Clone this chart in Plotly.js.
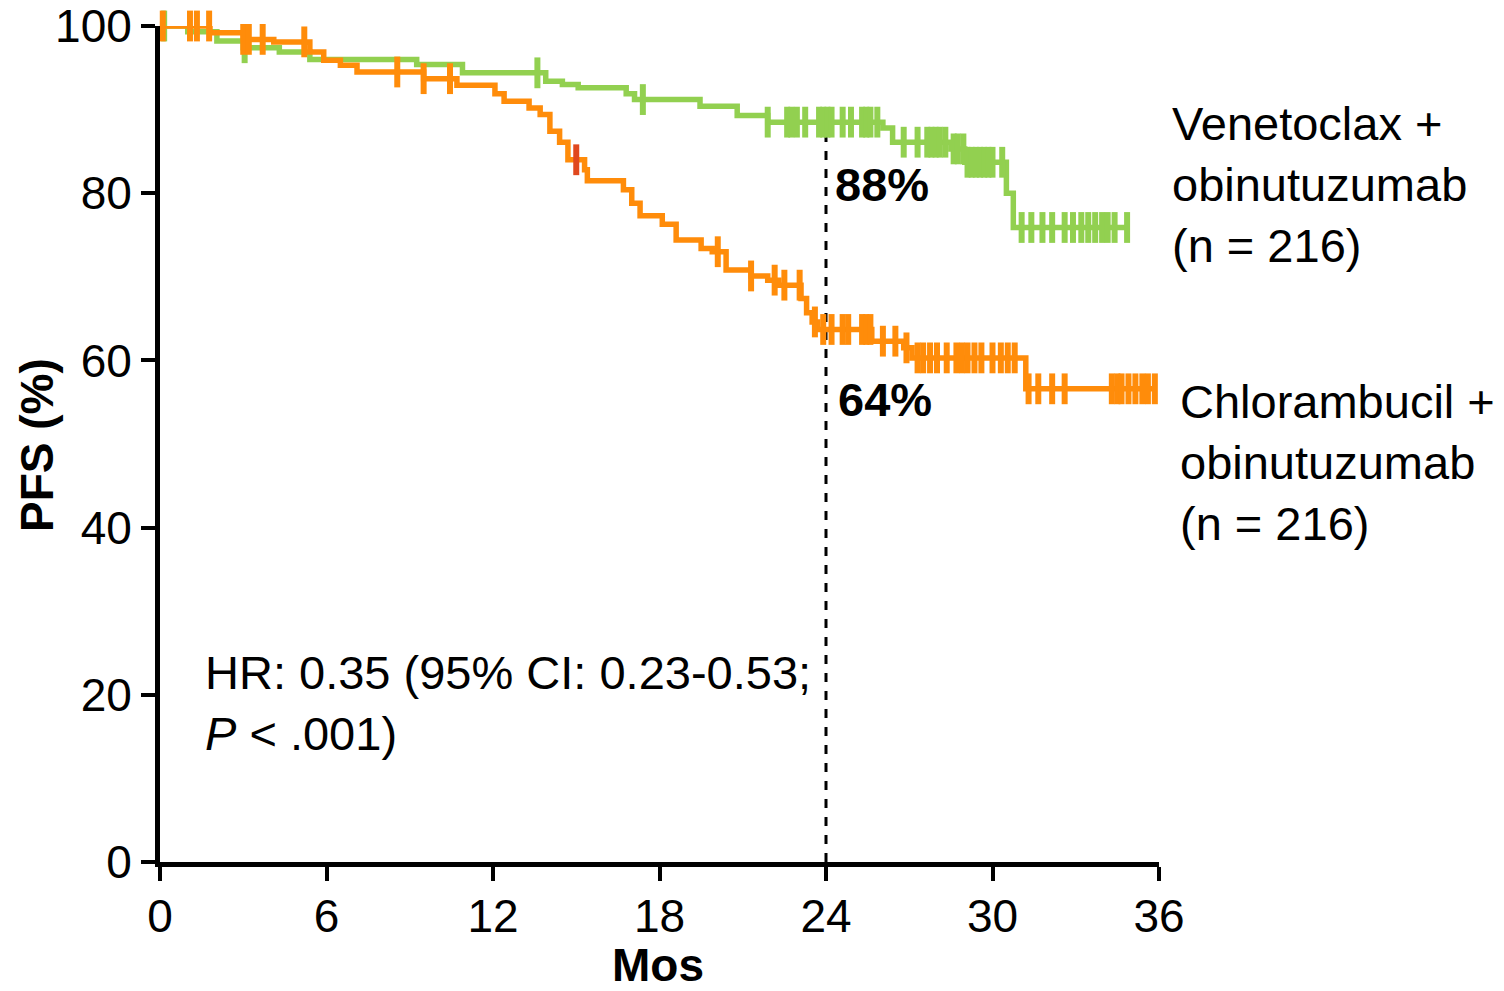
<!DOCTYPE html>
<html>
<head>
<meta charset="utf-8">
<script src="https://cdn.plot.ly/plotly-3.0.1.min.js"></script>
<style>html,body{margin:0;padding:0;background:#fff;}#chart{width:1504px;height:991px;}</style>
</head>
<body>
<div id="chart"></div>
<script>
// Venetoclax + obinutuzumab: step times (months) and PFS (%)
const venTimes = [0, 1.0, 2.05, 3.0, 4.3, 5.4, 9.25, 10.9, 13.9, 14.5, 15.07, 16.8, 17.1, 19.46, 20.8, 21.9, 26.05, 26.4, 28.5, 29.0, 30.5, 30.75];
const venPFS   = [100, 99.3, 98.2, 97.4, 96.9, 96.0, 95.4, 94.4, 93.4, 93.0, 92.6, 91.9, 91.2, 90.4, 89.3, 88.5, 87.8, 86.1, 85.3, 83.7, 80.0, 75.9];
const venCensor = [0.15, 3.05, 13.6, 17.4, 21.9, 22.6, 22.75, 22.95, 23.25, 23.75, 23.9, 24.05, 24.2, 24.6, 24.9, 25.3, 25.45, 25.6, 25.85, 26.8, 27.3, 27.65, 27.8, 27.95, 28.1, 28.3, 28.6, 28.75, 28.95, 29.1, 29.25, 29.4, 29.55, 29.7, 29.85, 30.0, 30.35, 31.05, 31.4, 31.8, 32.15, 32.6, 32.9, 33.2, 33.45, 33.7, 33.95, 34.15, 34.4, 34.85];

// Chlorambucil + obinutuzumab
const chlTimes = [0, 1.8, 3.0, 4.1, 5.4, 5.9, 6.5, 7.1, 9.5, 10.7, 12.07, 12.4, 13.3, 13.7, 14.05, 14.4, 14.7, 15.3, 15.4, 16.7, 17.0, 17.3, 18.1, 18.6, 19.5, 19.9, 20.4, 21.3, 21.9, 22.3, 23.1, 23.3, 23.5, 23.7, 25.65, 26.8, 27.1, 31.2];
const chlPFS   = [100, 99.2, 98.4, 98.1, 96.9, 95.9, 95.3, 94.5, 93.7, 92.9, 91.9, 91.0, 90.2, 89.4, 87.4, 86.1, 84.0, 82.8, 81.5, 80.4, 78.8, 77.3, 76.3, 74.4, 73.4, 73.0, 70.8, 70.1, 69.6, 69.0, 67.4, 65.7, 64.6, 63.7, 62.3, 61.5, 60.3, 56.6];
const chlCensor = [0.1, 1.08, 1.33, 1.77, 3.0, 3.2, 3.7, 5.2, 8.55, 9.5, 10.45, 20.1, 21.3, 22.15, 22.5, 23.05, 23.6, 23.9, 24.2, 24.6, 24.8, 25.3, 25.45, 25.6, 26.05, 26.5, 26.9, 27.3, 27.5, 27.75, 28.0, 28.35, 28.7, 28.9, 29.1, 29.35, 29.6, 30.0, 30.3, 30.55, 30.8, 31.3, 31.65, 32.15, 32.6, 34.3, 34.5, 34.65, 34.9, 35.15, 35.4, 35.6, 35.85];
const chlRedCensor = [15.0];

const xTicks = [0, 6, 12, 18, 24, 30, 36];
const yTicks = [0, 20, 40, 60, 80, 100];
const landmark = 24;
const xTitle = "Mos";
const yTitle = "PFS (%)";
const venLabel = "Venetoclax +<br>obinutuzumab<br>(n = 216)";
const chlLabel = "Chlorambucil +<br>obinutuzumab<br>(n = 216)";

const GREEN = '#92D050', ORANGE = '#FF8C0A', RED = '#E0481E';
const FONT = '"Liberation Sans", Arial, sans-serif';

function stepAt(times, vals, t) {
  let v = vals[0];
  for (let i = 0; i < times.length; i++) { if (times[i] <= t) v = vals[i]; }
  return v;
}
function lineXY(times, vals, endT) {
  return { x: times.concat([endT]), y: vals.concat([vals[vals.length - 1]]) };
}
const venLine = lineXY(venTimes, venPFS, venCensor[venCensor.length - 1]);
const chlLine = lineXY(chlTimes, chlPFS, chlCensor[chlCensor.length - 1]);

function censorTrace(times, stepT, stepV, color) {
  return {
    x: times, y: times.map(t => stepAt(stepT, stepV, t)),
    mode: 'markers', type: 'scatter', cliponaxis: false, hoverinfo: 'skip',
    marker: { symbol: 'line-ns', size: 22, color: color, line: { color: color, width: 6 } }
  };
}

const traces = [
  { x: venLine.x, y: venLine.y, mode: 'lines', type: 'scatter', line: { shape: 'hv', color: GREEN, width: 5.5 }, cliponaxis: false },
  censorTrace(venCensor, venTimes, venPFS, GREEN),
  { x: chlLine.x, y: chlLine.y, mode: 'lines', type: 'scatter', line: { shape: 'hv', color: ORANGE, width: 5.5 }, cliponaxis: false },
  censorTrace(chlCensor, chlTimes, chlPFS, ORANGE),
  censorTrace(chlRedCensor, chlTimes, chlPFS, RED)
];

const layout = {
  width: 1504, height: 991,
  margin: { l: 160, r: 345, t: 26, b: 129 },
  paper_bgcolor: '#fff', plot_bgcolor: '#fff',
  showlegend: false,
  font: { family: FONT, size: 45, color: '#000' },
  xaxis: {
    range: [0, 36], tickvals: xTicks, ticktext: xTicks.map(String),
    showgrid: false, zeroline: false, showline: true, linecolor: '#000', linewidth: 5,
    ticks: 'outside', ticklen: 14, tickwidth: 4, tickcolor: '#000',
    ticklabelstandoff: -4,
    tickfont: { size: 46, family: FONT }
  },
  yaxis: {
    range: [0, 100], tickvals: yTicks, ticktext: yTicks.map(String),
    showgrid: false, zeroline: false, showline: true, linecolor: '#000', linewidth: 5,
    ticks: 'outside', ticklen: 14, tickwidth: 4, tickcolor: '#000',
    tickfont: { size: 46, family: FONT }
  },
  shapes: [
    { type: 'line', xref: 'x', yref: 'y', x0: landmark, x1: landmark, y0: 0, y1: stepAt(venTimes, venPFS, landmark), line: { color: '#000', width: 3, dash: 'dash' }, layer: 'below' }
  ],
  annotations: [
    { xref: 'x', yref: 'paper', x: 17.95, y: -0.1235, xanchor: 'center', yanchor: 'middle', text: '<b>' + xTitle + '</b>', showarrow: false, font: { size: 46, family: FONT } },
    { xref: 'paper', yref: 'y', x: -0.123, y: 49.9, xanchor: 'center', yanchor: 'middle', textangle: -90, text: '<b>' + yTitle + '</b>', showarrow: false, font: { size: 46, family: FONT } },
    { xref: 'paper', yref: 'y', x: 1.011, y: 81.0, xanchor: 'left', yanchor: 'middle', align: 'left', text: venLabel, showarrow: false, font: { size: 47, family: FONT } },
    { xref: 'paper', yref: 'y', x: 1.019, y: 47.8, xanchor: 'left', yanchor: 'middle', align: 'left', text: chlLabel, showarrow: false, font: { size: 47, family: FONT } },
    { xref: 'x', yref: 'y', x: 24.25, y: 81.0, xanchor: 'left', yanchor: 'middle', text: '<b>88%</b>', showarrow: false, font: { size: 47, family: FONT } },
    { xref: 'x', yref: 'y', x: 24.36, y: 55.3, xanchor: 'left', yanchor: 'middle', text: '<b>64%</b>', showarrow: false, font: { size: 47, family: FONT } },
    { xref: 'x', yref: 'y', x: 1.55, y: 19.0, xanchor: 'left', yanchor: 'middle', align: 'left', text: 'HR: 0.35 (95% CI: 0.23-0.53;<br><i>P</i> &lt; .001)', showarrow: false, font: { size: 47, family: FONT } }
  ]
};

Plotly.newPlot('chart', traces, layout, { displayModeBar: false, staticPlot: true });
</script>
</body>
</html>
